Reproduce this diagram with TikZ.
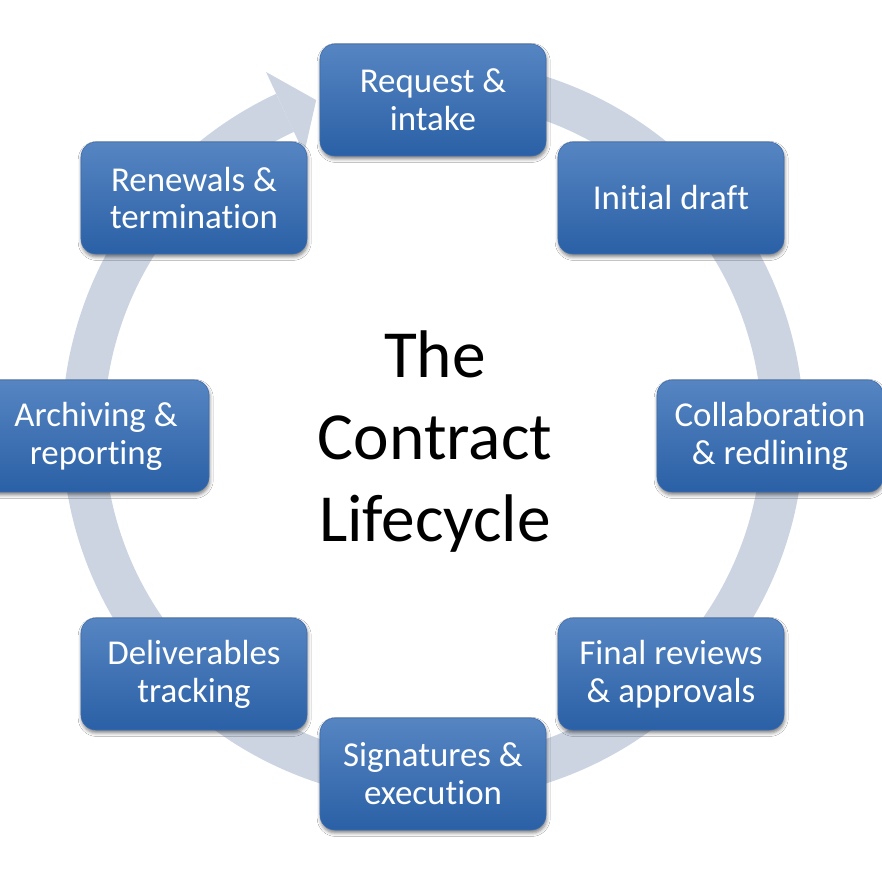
\documentclass[tikz,border=0pt]{standalone}
\usepackage{fontspec}
\setmainfont{Carlito}[Ligatures=NoCommon]
\usetikzlibrary{shadows.blur}
\definecolor{ringc}{RGB}{204,212,226}
\definecolor{boxtop}{RGB}{86,133,194}
\definecolor{boxbot}{RGB}{42,96,166}
\definecolor{boxedge}{RGB}{62,108,172}
\begin{document}
\begin{tikzpicture}[x=0.03cm,y=0.03cm,
  stage/.style={rounded corners=0.45cm, minimum width=6.78cm, minimum height=3.36cm,
    top color=boxtop, bottom color=boxbot, draw=boxedge, line width=0.5pt,
    text=white, align=center, font=\fontsize{29.8}{32.4}\selectfont, inner sep=0pt,
    blur shadow={shadow xshift=0.6pt, shadow yshift=-2.5pt, shadow blur radius=3pt, shadow opacity=50}},
  title/.style={align=center, font=\fontsize{57.5}{70}\selectfont, text=black},
  ringstyle/.style={ringc, line width=1.26cm}]
\useasboundingbox (0,0) rectangle (882,882);
\fill[white] (0,0) rectangle (882,882);
\coordinate (rc) at (433,452);
% ring arrow
\draw[ringstyle] (rc) ++(100:350) arc[start angle=100, end angle=-245, radius=350];
\fill[ringc, shift={(rc)}] (115:395) -- (109.5:350) -- (115:305) -- cycle;
% stages
\node[stage] (req) at (433,782) {Request \&\\intake};
\node[stage] (init) at (671,684) {Initial draft};
\node[stage] (collab) at (770,446) {Collaboration\\\& redlining};
\node[stage] (final) at (671,208) {Final reviews\\\& approvals};
\node[stage] (sig) at (433,108) {Signatures \&\\execution};
\node[stage] (deliv) at (194,208) {Deliverables\\tracking};
\node[stage] (arch) at (96,446) {Archiving \&\\reporting};
\node[stage] (renew) at (194,684) {Renewals \&\\termination};
\node[title] (ttl) at (435,440) {The\\Contract\\Lifecycle};
\end{tikzpicture}
\end{document}
